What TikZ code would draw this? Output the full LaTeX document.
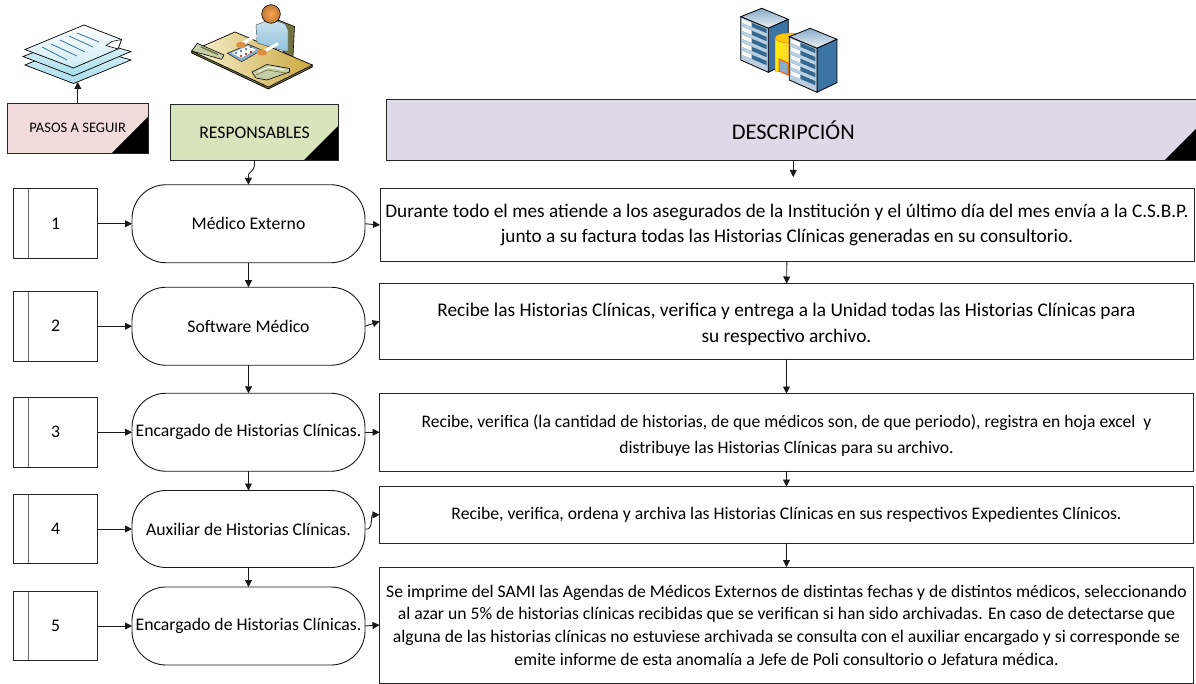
\documentclass[tikz,border=0pt]{standalone}
\usepackage{fontspec}
\setmainfont{Carlito}
\usetikzlibrary{arrows.meta,positioning}

\definecolor{rosa}{HTML}{F2DCDB}
\definecolor{verde}{HTML}{D8E4BC}
\definecolor{lila}{HTML}{DDD9E6}
\definecolor{azul}{HTML}{3B74A3}
\definecolor{hoja}{HTML}{A5DCEA}
\definecolor{mesa}{HTML}{CBA83E}
\definecolor{crema}{HTML}{F8F2D2}
\definecolor{piel}{HTML}{DD9044}
\definecolor{camisa}{HTML}{8FC0DC}
\definecolor{oliva}{HTML}{70733F}
\definecolor{salvia}{HTML}{C4CDA6}

% one rack of the server pair, (0,0) is the top left corner of its front
\newcommand{\rack}[2]{%
  \begin{scope}[shift={(#1,#2)}]
    \shade[top color=azul!60!white, bottom color=azul!10!white, draw=black, line width=0.8pt] (0,0) -- (21,-8.4) -- (47.6,2.6) -- (27.6,11.6) -- cycle;
    \fill[azul, draw=black, line width=0.8pt] (27.6,11.6) -- (47.6,2.6) -- (47.6,46) -- (27.6,55.6) -- cycle;
    \fill[azul!35!white, draw=black, line width=0.8pt] (0,0) -- (27.6,11.6) -- (27.6,55.6) -- (0,43.3) -- cycle;
    \foreach \i in {0,...,4} {
      \fill[azul!90!black] (1.5,{2+8*\i}) -- (26,{12.3+8*\i}) -- (26,{16.5+8*\i}) -- (1.5,{6.2+8*\i}) -- cycle;
      \fill[white] (1.5,{2+8*\i}) -- (11,{6+8*\i}) -- (11,{10.2+8*\i}) -- (1.5,{6.2+8*\i}) -- cycle;
    }
  \end{scope}}

\begin{document}
\begin{tikzpicture}[
  x=1pt, y=-1pt,
  cabecera/.style={rectangle, draw=black!85, line width=0.9pt, inner sep=0pt, outer sep=0pt, align=center,
    path picture={\fill[black] (path picture bounding box.south east) -- ++(-#1,0) -- ++(#1,-#1) -- cycle;}},
  pasobox/.style={rectangle, draw=black!85, line width=0.9pt, inner sep=0pt, outer sep=0pt, minimum width=84pt, minimum height=70pt, font=\fontsize{17.7}{21}\selectfont,
    path picture={\draw[black!60, line width=1pt] ([xshift=14.5pt]path picture bounding box.north west) -- ([xshift=14.5pt]path picture bounding box.south west);}},
  rol/.style={rectangle, draw=black!90, line width=0.9pt, rounded corners=34pt, inner sep=0pt, outer sep=0pt, minimum width=233pt, minimum height=78pt, font=\fontsize{17.7}{21}\selectfont},
  tarea/.style={rectangle, draw=black!85, line width=0.9pt, inner sep=0pt, outer sep=0pt, align=center, minimum width=814pt},
  flecha/.style={-{Triangle[length=7pt,width=7pt]}, line width=0.9pt, black!90}
]
\useasboundingbox (0,0) rectangle (1196,684);

% Header row
\node[cabecera=36, fill=rosa, minimum width=140.5pt, minimum height=50pt, font=\fontsize{14.55}{17}\selectfont] (pasos) at (77.75,128) {PASOS A SEGUIR};
\node[cabecera=35, fill=verde, minimum width=168pt, minimum height=56pt, font=\fontsize{17.7}{21}\selectfont] (resp) at (254.5,132.5) {RESPONSABLES};
\node[cabecera=36, fill=lila, minimum width=813.5pt, minimum height=61.5pt, font=\fontsize{22.4}{27}\selectfont] (desc) at (793.25,130) {DESCRIPCIÓN};

% Steps column
\node[pasobox] (p1) at (55.5,223.75) {1};
\node[pasobox] (p2) at (55.5,326.25) {2};
\node[pasobox] (p3) at (55.5,432.25) {3};
\node[pasobox, minimum height=69pt] (p4) at (55.5,529) {4};
\node[pasobox, minimum height=69pt] (p5) at (55.5,626) {5};

% Who is responsible
\node[rol, right=34.5pt of p1] (r1) {Médico Externo};
\node[rol, right=34.5pt of p2] (r2) {Software Médico};
\node[rol, right=34.5pt of p3] (r3) {Encargado de Historias Clínicas.};
\node[rol, right=34.5pt of p4, minimum height=77pt] (r4) {Auxiliar de Historias Clínicas.};
\node[rol, right=34.5pt of p5] (r5) {Encargado de Historias Clínicas.};

% Description of each step
\node[tarea, minimum height=73pt, font=\fontsize{19.25}{25.5}\selectfont] (d1) at (787,225) {Durante todo el mes atiende a los asegurados de la Institución y el último día del mes envía a la C.S.B.P.\\junto a su factura todas las Historias Clínicas generadas en su consultorio.};
\node[tarea, minimum height=75.5pt, font=\fontsize{19.33}{26}\selectfont] (d2) at (786.5,321.25) {\rule{0pt}{20pt}Recibe las Historias Clínicas, verifica y entrega a la Unidad todas las Historias Clínicas para\\su respectivo archivo.};
\node[tarea, minimum height=77.5pt, font=\fontsize{17.6}{26}\selectfont] (d3) at (786.5,432.25) {\rule{0pt}{19pt}Recibe, verifica (la cantidad de historias, de que médicos son, de que periodo), registra en hoja excel~ y\\distribuye las Historias Clínicas para su archivo.};
\node[tarea, minimum height=56.5pt, font=\fontsize{17.66}{21}\selectfont] (d4) at (786.5,514.75) {Recibe, verifica, ordena y archiva las Historias Clínicas en sus respectivos Expedientes Clínicos.};
\node[tarea, minimum height=116pt, font=\fontsize{17.66}{22.7}\selectfont] (d5) at (786.5,625) {Se imprime del SAMI las Agendas de Médicos Externos de distintas fechas y de distintos médicos, seleccionando\\al azar un 5\% de historias clínicas recibidas que se verifican si han sido archivadas. En caso de detectarse que\\alguna de las historias clínicas no estuviese archivada se consulta con el auxiliar encargado y si corresponde se\\emite informe de esta anomalía a Jefe de Poli consultorio o Jefatura médica.};

% Free ends of the two header arrows
\coordinate (hojas) at (77.75,82);
\coordinate (bajada) at (793.25,177);

% Stack of sheets
\shade[top color=hoja!30!white, bottom color=hoja, draw=black, line width=0.7pt] (25,65) -- (76,44) -- (131,60) -- (73.5,83.5) -- cycle;
\shade[top color=hoja!20!white, bottom color=hoja, draw=black, line width=0.7pt] (23,56.5) -- (76,36) -- (131,51.5) -- (73.5,76) -- cycle;
\shade[top color=white, bottom color=hoja!55!white, draw=black, line width=0.7pt] (25,49.5) -- (84,25) -- (121.5,39.5) -- (118,49) -- (73.5,68) -- cycle;
\fill[white, draw=black, line width=0.6pt] (121.5,39.5) -- (118,49) -- (106,45.5) -- (112,41.5) -- cycle;
\foreach \a/\b/\c/\d in {77/33/99/42, 69/36/93/47, 60/40/85/52, 51/44/77/56, 42/47/67/60}
  \draw[azul, line width=0.8pt] (\a,\b) -- (\c,\d);

% Clerk at the desk
\fill[oliva, draw=black, line width=0.6pt] (278,20) -- (294.5,26.5) -- (293,57) -- (284,53) -- cycle;
\draw[line width=0.7pt, fill=oliva] (191.7,51) -- (191.7,53) -- (268.3,89) -- (312.3,67) -- (312.3,65) -- cycle;
\shade[left color=crema, right color=mesa, draw=black, line width=0.7pt] (191.7,51) -- (235,32) -- (312.3,65) -- (268.3,87) -- cycle;
\fill[salvia, draw=black, line width=0.6pt] (197.3,43.3) -- (224,55) -- (221.7,59.3) -- (191.7,51) -- cycle;
\draw[oliva, line width=1.4pt] (201,47) -- (218,54.5);
\shade[top color=camisa!50!white, bottom color=camisa, draw=black!70, line width=0.4pt] (256,25) -- (266,21) -- (277,21) -- (285,24) -- (288,30) -- (288,52) -- (257,43) -- cycle;
\fill[azul!60!white, draw=black!80, line width=0.6pt] (227.3,53.3) -- (248.3,44.3) -- (261.7,50) -- (241.7,61.7) -- cycle;
\fill[white] (232,53) -- (248,46) -- (256,50) -- (241,58) -- cycle;
\foreach \a/\b in {236/53, 241/51, 246/49, 251/47}
  \fill[azul!80!black] (\a,\b) circle (1.2pt);
\foreach \a/\b in {241/56, 246/54, 251/52}
  \fill[red!75!black] (\a,\b) circle (1.2pt);
\draw[white, line width=3pt] (241,44) -- (256.5,35.5);
\draw[white, line width=3pt] (263,52) -- (278,43.5);
\fill[piel] (241,45) ellipse (5pt and 3.2pt);
\fill[piel] (262,52.5) ellipse (5pt and 3.2pt);
\shade[inner color=orange!70!white, outer color=piel!85!black, draw=black, line width=0.6pt] (271,14) circle (9.3pt);
\fill[salvia, draw=black, line width=0.6pt] (252,72) -- (267,64.5) -- (289.5,68.5) -- (289.5,72) -- (267,80) -- (256,78) -- cycle;
\draw[white, line width=0.8pt] (258,72) -- (269,67) -- (285,70);
\draw[oliva, line width=0.6pt] (256,75) -- (267,70) -- (286,73);

% Servers with the database between them
\rack{740.7}{16.7}
\shade[left color=yellow!85!orange, right color=orange!55, draw=orange!50!brown, line width=0.5pt] (775,38) -- (775,71) -- (805,75) -- (805,38) -- cycle;
\fill[yellow!60!orange, draw=orange!50!brown, line width=0.4pt] (790,38) ellipse (15pt and 5pt);
\fill[azul!60!white, draw=orange!70!red, line width=1pt] (779,59) -- (788,63) -- (788,75) -- (779,71) -- cycle;
\rack{789.3}{36.7}

% Connectors
\draw[flecha] (pasos) -- (hojas);
\draw[flecha] (resp.south) .. controls (255,176) and (248,168) .. (r1.north);
\draw[flecha] (desc) -- (bajada);

\draw[flecha] (p1) -- (r1);
\draw[flecha] (p2) -- (r2);
\draw[flecha] (p3) -- (r3);
\draw[flecha] (p4) -- (r4);
\draw[flecha] (p5) -- (r5);

\draw[flecha] (r1) -- (r2);
\draw[flecha] (r2) -- (r3);
\draw[flecha] (r3) -- (r4);
\draw[flecha] (r4) -- (r5);

\draw[flecha] (r1.east) -- (d1.west);
\draw[flecha] (r2.east) -- (d2.west);
\draw[flecha] (r3.east) -- (d3.west);
\draw[flecha] (r4.east) .. controls (374,531) and (370,515) .. (d4.west);
\draw[flecha] (r5.east) -- (d5.west);

\draw[flecha] (d1) -- (d2);
\draw[flecha] (d2) -- (d3);
\draw[flecha] (d3) -- (d4);
\draw[flecha] (d4) -- (d5);
\end{tikzpicture}
\end{document}
